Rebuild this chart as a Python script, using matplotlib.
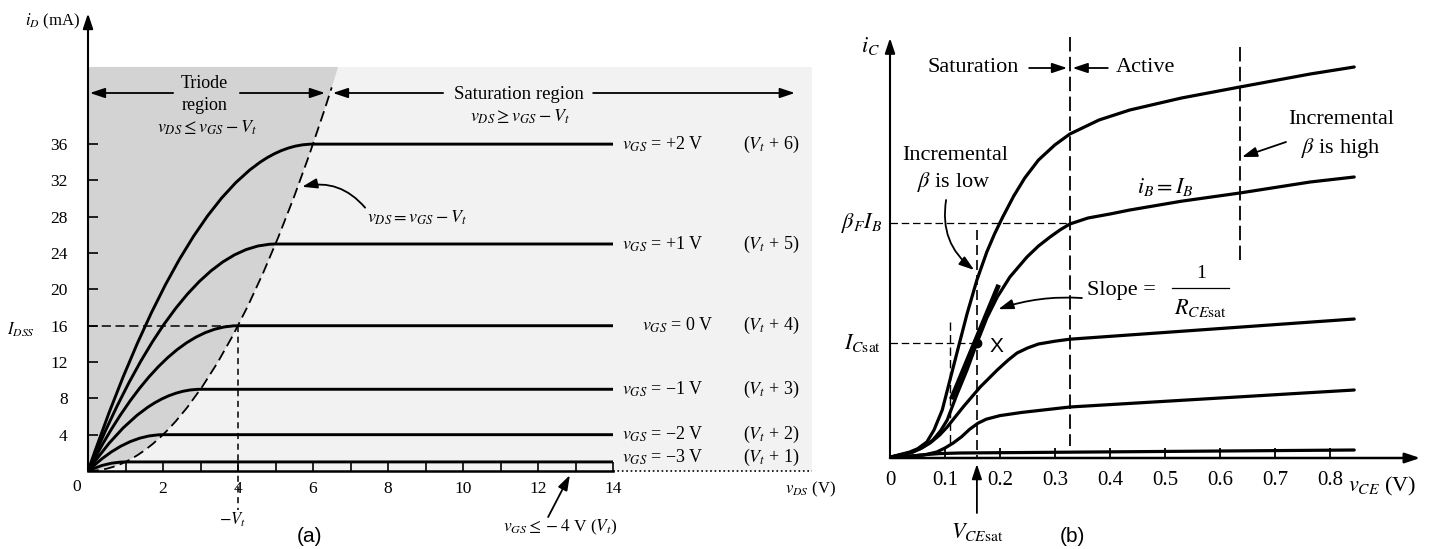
import matplotlib
matplotlib.use("Agg")
import matplotlib.pyplot as plt
from matplotlib.path import Path
from matplotlib.patches import PathPatch, Rectangle

plt.rcParams["font.family"] = ["Liberation Serif", "DejaVu Serif"]
plt.rcParams["mathtext.fontset"] = "stix"

# ---- (a) MOSFET output curves, Vt = -4 V ----
vgs_values = [2, 1, 0, -1, -2, -3]
overdrive = [6, 5, 4, 3, 2, 1]        # vGS - Vt = knee of each curve (V)
id_sat = [36, 25, 16, 9, 4, 1]        # mA
vds_end = 14
a_xticks = [2, 4, 6, 8, 10, 12, 14]
a_minor = [1, 3, 5, 7, 9, 11, 13]
a_yticks = [4, 8, 12, 16, 20, 24, 28, 32, 36]
edge_top = (6.5, 42.25)               # top end of the dashed vDS = vGS - Vt line
shade_top = 44.5
shade_edge = 6.67
shade_right = 19.3

# ---- (b) BJT collector curves (arbitrary current units) ----
vce_1 = [0.0, 0.036, 0.05, 0.067, 0.08, 0.095, 0.109, 0.124, 0.14, 0.158, 0.176, 0.19, 0.205,
         0.225, 0.245, 0.27, 0.30, 0.327, 0.38, 0.436, 0.53, 0.636, 0.764, 0.844]
ic_1 = [0.02, 0.15, 0.23, 0.4, 0.7, 1.2, 1.95, 2.75, 3.6, 4.45, 5.15, 5.6, 6.025,
        6.55, 7.0, 7.45, 7.83, 8.1, 8.45, 8.7, 9.0, 9.275, 9.6, 9.775]
vce_2 = [0.0, 0.042, 0.06, 0.078, 0.092, 0.104, 0.122, 0.14, 0.158, 0.176, 0.195, 0.218, 0.249,
         0.27, 0.291, 0.31, 0.327, 0.36, 0.40, 0.436, 0.53, 0.636, 0.764, 0.844]
ic_2 = [0.02, 0.15, 0.27, 0.45, 0.68, 0.95, 1.6, 2.2, 2.875, 3.5, 4.025, 4.525, 5.025,
        5.3, 5.525, 5.71, 5.85, 6.0, 6.1, 6.2, 6.42, 6.625, 6.9, 7.025]
vce_3 = [0.0, 0.036, 0.055, 0.073, 0.09, 0.104, 0.133, 0.164, 0.195, 0.215, 0.231, 0.25, 0.27,
         0.30, 0.327, 0.844]
ic_3 = [0.02, 0.125, 0.23, 0.375, 0.57, 0.775, 1.275, 1.775, 2.2, 2.45, 2.625, 2.75, 2.85,
        2.92, 2.97, 3.475]
vce_4 = [0.0, 0.06, 0.085, 0.1, 0.115, 0.13, 0.145, 0.16, 0.175, 0.2, 0.24, 0.327, 0.844]
ic_4 = [0.02, 0.07, 0.15, 0.25, 0.375, 0.53, 0.72, 0.87, 0.97, 1.06, 1.14, 1.275, 1.7]
vce_5 = [0.0, 0.03, 0.055, 0.09, 0.127, 0.844]
ic_5 = [0.0, 0.03, 0.075, 0.11, 0.125, 0.2]
slope_v = [0.113, 0.196]
slope_i = [1.525, 4.275]
b_xticks = [0, 0.1, 0.2, 0.3, 0.4, 0.5, 0.6, 0.7, 0.8]
v_sat_active = 0.327
v_beta_high = 0.636
v_cesat = 0.158
v_low = 0.109
bf_ib = 5.875
ic_sat = 2.875

W, H = 1435, 549
fig = plt.figure(figsize=(W / 100, H / 100), dpi=100)


def arrow(ax, start, end, rad=0.0, lw=1.2, hl=0.9, hw=0.3):
    ax.annotate("", xy=end, xytext=start, annotation_clip=False,
                arrowprops=dict(arrowstyle=f"-|>,head_length={hl},head_width={hw}",
                                color="k", lw=lw, shrinkA=0, shrinkB=0,
                                connectionstyle=f"arc3,rad={rad}"))


# ================= panel (a) =================
axA = fig.add_axes([88 / W, (H - 471) / H, (840 - 88) / W, (471 - 5) / H])
axA.set_xlim(0, 752 / 37.5)
axA.set_ylim(0, 466 / 9.08)
for s in axA.spines.values():
    s.set_visible(False)
axA.patch.set_alpha(0)

axA.add_patch(Rectangle((0, 0), shade_right, shade_top, fc="#f2f2f2", ec="none", zorder=0))
tri = Path([(0, 0), (shade_edge / 2, 0), (shade_edge, shade_top), (0, shade_top), (0, 0)],
           [Path.MOVETO, Path.CURVE3, Path.CURVE3, Path.LINETO, Path.CLOSEPOLY])
axA.add_patch(PathPatch(tri, fc="#d3d3d3", ec="none", zorder=0))

for v, i in zip(overdrive, id_sat):
    p = Path([(0, 0), (v / 2, i), (v, i), (vds_end, i)],
             [Path.MOVETO, Path.CURVE3, Path.CURVE3, Path.LINETO])
    axA.add_patch(PathPatch(p, fill=False, lw=2.1, ec="k", zorder=3))

edge = Path([(0, 0), (edge_top[0] / 2, 0), edge_top], [Path.MOVETO, Path.CURVE3, Path.CURVE3])
axA.add_patch(PathPatch(edge, fill=False, lw=1.3, ec="k", linestyle=(0, (6, 3)), zorder=3))

axA.plot([0, vds_end], [0, 0], color="k", lw=1.8, clip_on=False, zorder=4)
axA.plot([vds_end, shade_right], [0, 0], color="k", lw=1.2, ls=":", clip_on=False)
arrow(axA, (0, 0), (0, 50.4), lw=1.5)

axA.plot([0, overdrive[2]], [id_sat[2], id_sat[2]], color="k", lw=1.1, dashes=(6, 3))
axA.plot([overdrive[2], overdrive[2]], [id_sat[2], -4.3], color="k", lw=1.1, dashes=(4, 3), clip_on=False)

axA.set_xticks(a_xticks)
axA.set_xticks(a_minor, minor=True)
axA.set_yticks(a_yticks)
axA.tick_params(axis="x", which="both", direction="in", length=6.5, width=1.2, pad=7, labelsize=12.5)
axA.tick_params(axis="y", direction="in", length=7, width=1.2, pad=14.5, labelsize=12.5)

axA.text(-0.29, -1.76, "0", ha="center", va="center", fontsize=12.5)
axA.text(-0.2, 49.5, r"$i_D$ (mA)", ha="right", va="center", fontsize=12)
axA.text(-1.8, 15.5, r"$I_{DSS}$", ha="center", va="center", fontsize=12)
axA.text(3.84, -5.4, r"$-V_t$", ha="center", va="center", fontsize=12)
axA.text(18.59, -2.0, r"$v_{DS}$ (V)", ha="left", va="center", fontsize=12)

# region arrows
arrow(axA, (2.27, 41.63), (0.05, 41.63), lw=1.3)
arrow(axA, (4.05, 41.63), (6.32, 41.63), lw=1.3)
axA.text(3.1, 42.7, "Triode", ha="center", va="center", fontsize=13)
axA.text(3.1, 40.3, "region", ha="center", va="center", fontsize=13)
axA.text(3.17, 37.8, r"$v_{DS} \leq v_{GS} - V_t$", ha="center", va="center", fontsize=13)
arrow(axA, (9.47, 41.63), (6.53, 41.63), lw=1.3)
arrow(axA, (13.47, 41.63), (18.85, 41.63), lw=1.3)
axA.text(11.49, 41.5, "Saturation region", ha="center", va="center", fontsize=13.5)
axA.text(11.52, 39.0, r"$v_{DS} \geq v_{GS} - V_t$", ha="center", va="center", fontsize=13)

axA.text(7.44, 27.9, r"$v_{DS} = v_{GS} - V_t$", ha="left", va="center", fontsize=13)
arrow(axA, (7.39, 29.0), (5.71, 31.3), rad=0.3, lw=1.3)

for vg, ov, i in zip(vgs_values, overdrive, id_sat):
    sign = "+" if vg > 0 else ("\u2212" if vg < 0 else "")
    y0 = i if i > 1 else 1.5
    x0 = 14.77 if vg == 0 else 14.24
    axA.text(x0, y0, rf"$v_{{GS}}$ = {sign}{abs(vg)} V", ha="left", va="center", fontsize=13)
    axA.text(17.47, y0, rf"($V_t$ + {ov})", ha="left", va="center", fontsize=13)

axA.text(12.6, -6.2, r"$v_{GS} \leq -4$ V ($V_t$)", ha="center", va="center", fontsize=12.5)
arrow(axA, (12.27, -5.07), (12.85, -0.45), lw=1.3)
fig.text(309 / W, 1 - 537 / H, "(a)", ha="center", va="center", fontsize=15, family="Liberation Sans")

# ================= panel (b) =================
axB = fig.add_axes([890 / W, (H - 458) / H, (1430 - 890) / W, (458 - 15) / H])
axB.set_xlim(0, 540 / 550)
axB.set_ylim(0, 443 / 40)
for s in axB.spines.values():
    s.set_visible(False)
axB.patch.set_alpha(0)

for vv, ii in [(vce_1, ic_1), (vce_2, ic_2), (vce_3, ic_3), (vce_4, ic_4), (vce_5, ic_5)]:
    axB.plot(vv, ii, color="k", lw=2.3, solid_capstyle="round", solid_joinstyle="round")
axB.plot(slope_v, slope_i, color="k", lw=3.4)
axB.plot([v_cesat], [ic_sat], "o", color="k", ms=6)

arrow(axB, (0, 0), (0, 10.5), lw=1.5)
arrow(axB, (0, 0), (0.964, 0), lw=1.8)

axB.plot([v_sat_active] * 2, [10.525, 0.3], color="k", lw=1.3, dashes=(8, 3))
axB.plot([v_beta_high] * 2, [10.275, 4.875], color="k", lw=1.3, dashes=(8, 3))
axB.plot([v_cesat] * 2, [5.7, 0], color="k", lw=1.2, dashes=(6, 3))
axB.plot([v_low] * 2, [3.4, 0.375], color="k", lw=1.0, dashes=(6, 3))
axB.plot([0, v_sat_active], [bf_ib, bf_ib], color="k", lw=0.9, dashes=(6, 3))
axB.plot([0, v_cesat], [ic_sat, ic_sat], color="k", lw=0.9, dashes=(6, 3))

axB.set_xticks(b_xticks)
axB.set_xticklabels([f"{t:g}" for t in b_xticks])
axB.set_yticks([])
axB.tick_params(axis="x", direction="in", length=7, width=1.3, pad=9.5, labelsize=15)

fs = 16
axB.text(-0.036, 10.3, r"$i_C$", ha="center", va="center", fontsize=fs)
axB.text(0.151, 9.75, "Saturation", ha="center", va="center", fontsize=fs)
arrow(axB, (0.253, 9.75), (0.322, 9.75), lw=1.3)
arrow(axB, (0.396, 9.75), (0.332, 9.75), lw=1.3)
axB.text(0.411, 9.75, "Active", ha="left", va="center", fontsize=fs)

axB.text(0.118, 7.575, "Incremental", ha="center", va="center", fontsize=fs)
axB.text(0.115, 6.9, r"$\beta$ is low", ha="center", va="center", fontsize=fs)
arrow(axB, (0.102, 6.45), (0.153, 4.7), rad=0.3, lw=1.3)

axB.text(0.82, 8.45, "Incremental", ha="center", va="center", fontsize=fs)
axB.text(0.82, 7.75, r"$\beta$ is high", ha="center", va="center", fontsize=fs)
arrow(axB, (0.72, 7.9), (0.64, 7.525), lw=1.3)

axB.text(0.5, 6.775, r"$i_B = I_B$", ha="center", va="center", fontsize=fs)
axB.text(-0.015, bf_ib, r"$\beta_F I_B$", ha="right", va="center", fontsize=fs)
axB.text(-0.015, ic_sat, r"$I_{C\mathrm{sat}}$", ha="right", va="center", fontsize=fs)
axB.text(0.193, 2.8, "X", ha="center", va="center", fontsize=15, family="Liberation Sans")

axB.text(0.358, 4.2, "Slope =", ha="left", va="center", fontsize=fs)
axB.text(0.565, 4.6, "1", ha="center", va="center", fontsize=14)
axB.plot([0.513, 0.616], [4.25, 4.25], color="k", lw=0.9, clip_on=False)
axB.text(0.564, 3.75, r"$R_{CE\mathrm{sat}}$", ha="center", va="center", fontsize=fs)
arrow(axB, (0.349, 4.0), (0.197, 3.72), rad=0.1, lw=1.3)

axB.text(v_cesat, -1.85, r"$V_{CE\mathrm{sat}}$", ha="center", va="center", fontsize=fs)
arrow(axB, (v_cesat, -1.375), (v_cesat, -0.15), lw=1.3)
axB.text(0.833, -0.7, r"$v_{CE}$ (V)", ha="left", va="center", fontsize=fs)
fig.text(1072 / W, 1 - 537 / H, "(b)", ha="center", va="center", fontsize=15, family="Liberation Sans")

fig.savefig("out.png", dpi=100, facecolor="white")
